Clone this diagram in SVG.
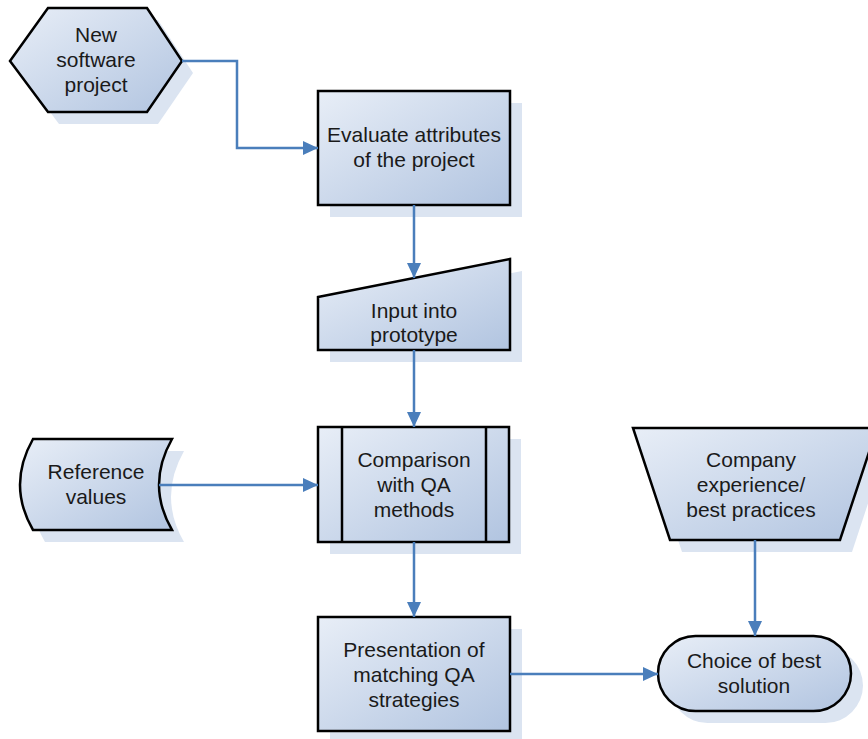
<svg xmlns="http://www.w3.org/2000/svg" width="868" height="739" viewBox="0 0 868 739">
<defs>
<linearGradient id="g" x1="0" y1="0" x2="1" y2="1">
<stop offset="0" stop-color="#e8eef7"/>
<stop offset="1" stop-color="#b1c4e0"/>
</linearGradient>
<marker id="ah" markerUnits="userSpaceOnUse" markerWidth="16" markerHeight="14" refX="15" refY="7" orient="auto">
<path d="M0,0 L15,7 L0,14 z" fill="#4a7ebb"/>
</marker>
</defs>
<style>
.sh{fill:#dbe4f1;stroke:none}
.nd{fill:url(#g);stroke:#000;stroke-width:2.5;stroke-linejoin:miter}
.ln{fill:none;stroke:#000;stroke-width:2.5}
.t{font-family:"Liberation Sans",Arial,sans-serif;font-size:21px;fill:#1a1a1a;text-anchor:middle}
.c{fill:none;stroke:#4a7ebb;stroke-width:2.5;marker-end:url(#ah)}
</style>
<rect width="868" height="739" fill="#fff"/>

<g id="new-software-project">
<path class="sh" transform="translate(11,12)" d="M10,61 L48,8 L147,8 L182,61 L147,112 L48,112 Z"/>
<path class="nd" d="M10,61 L48,8 L147,8 L182,61 L147,112 L48,112 Z"/>
<text class="t" x="96" y="42">New</text>
<text class="t" x="96" y="67">software</text>
<text class="t" x="96" y="92">project</text>
</g>

<g id="evaluate-attributes">
<rect class="sh" x="330" y="103" width="192" height="114"/>
<rect class="nd" x="318" y="91" width="192" height="114"/>
<text class="t" x="414" y="142">Evaluate attributes</text>
<text class="t" x="414" y="167">of the project</text>
</g>

<g id="input-into-prototype">
<path class="sh" transform="translate(12,12)" d="M318,297 L510,259 L510,350 L318,350 Z"/>
<path class="nd" d="M318,297 L510,259 L510,350 L318,350 Z"/>
<text class="t" x="414" y="318">Input into</text>
<text class="t" x="414" y="342">prototype</text>
</g>

<g id="reference-values">
<path class="sh" transform="translate(12,12)" d="M33,439 L172,439 Q146,485 172,530 L33,530 Q7,485 33,439 Z"/>
<path class="nd" d="M33,439 L172,439 Q146,485 172,530 L33,530 Q7,485 33,439 Z"/>
<text class="t" x="96" y="479">Reference</text>
<text class="t" x="96" y="504">values</text>
</g>

<g id="comparison-with-qa-methods">
<rect class="sh" x="330" y="439" width="191" height="115"/>
<rect class="nd" x="318" y="427" width="191" height="115"/>
<line class="ln" x1="342" y1="427" x2="342" y2="542"/>
<line class="ln" x1="486" y1="427" x2="486" y2="542"/>
<text class="t" x="414" y="467">Comparison</text>
<text class="t" x="414" y="492">with QA</text>
<text class="t" x="414" y="517">methods</text>
</g>

<g id="company-experience">
<path class="sh" transform="translate(12,12)" d="M633,428 L877,428 L840,540 L670,540 Z"/>
<path class="nd" d="M633,428 L877,428 L840,540 L670,540 Z"/>
<text class="t" x="751" y="467">Company</text>
<text class="t" x="751" y="492">experience/</text>
<text class="t" x="751" y="517">best practices</text>
</g>

<g id="presentation-of-strategies">
<rect class="sh" x="330" y="629" width="192" height="114"/>
<rect class="nd" x="318" y="617" width="192" height="114"/>
<text class="t" x="414" y="657">Presentation of</text>
<text class="t" x="414" y="682">matching QA</text>
<text class="t" x="414" y="707">strategies</text>
</g>

<g id="choice-of-best-solution">
<rect class="sh" x="670" y="648" width="193" height="75" rx="37.5"/>
<rect class="nd" x="658" y="636" width="193" height="75" rx="37.5"/>
<text class="t" x="754" y="668">Choice of best</text>
<text class="t" x="754" y="693">solution</text>
</g>

<g id="connectors">
<path class="c" d="M182,61 L237,61 L237,148 L318,148"/>
<path class="c" d="M414,205 L414,278"/>
<path class="c" d="M414,350 L414,427"/>
<path class="c" d="M159,485 L318,485"/>
<path class="c" d="M414,542 L414,617"/>
<path class="c" d="M755,540 L755,636"/>
<path class="c" d="M510,674 L658,674"/>
</g>
</svg>
